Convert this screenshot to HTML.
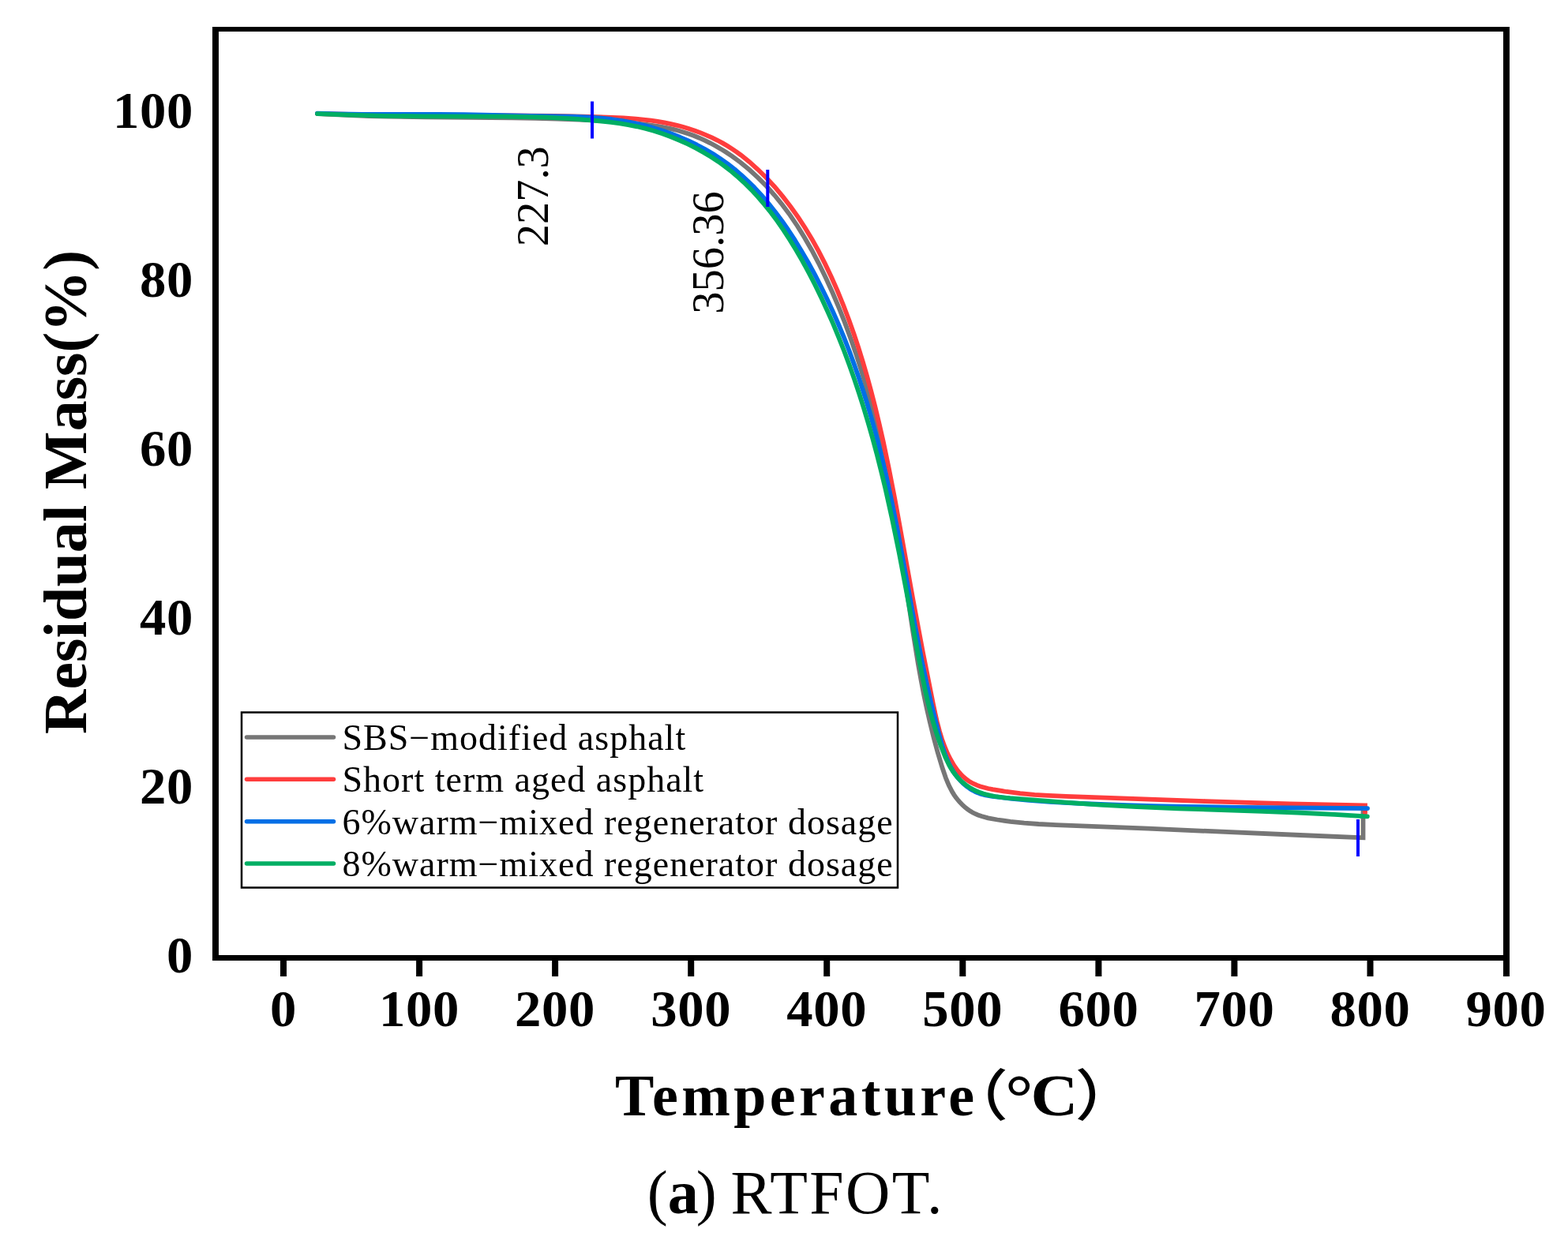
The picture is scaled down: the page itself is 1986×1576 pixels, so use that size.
<!DOCTYPE html>
<html><head><meta charset="utf-8"><style>
html,body{margin:0;padding:0;background:#fff;width:1986px;height:1576px;overflow:hidden}
svg{display:block}
.ser{font-family:"Liberation Serif",serif}
</style></head><body>
<svg width="1986" height="1576" viewBox="0 0 1986 1576">
<rect width="1986" height="1576" fill="#fff"/>
<g fill="#000">
<rect x="269" y="34" width="1643" height="6"/>
<rect x="269" y="1210" width="1643" height="7"/>
<rect x="269" y="34" width="8" height="1183"/>
<rect x="1904" y="34" width="8" height="1203"/>
<rect x="355.0" y="1216" width="8" height="21"/><rect x="527.1" y="1216" width="8" height="21"/><rect x="699.1" y="1216" width="8" height="21"/><rect x="871.2" y="1216" width="8" height="21"/><rect x="1043.2" y="1216" width="8" height="21"/><rect x="1215.3" y="1216" width="8" height="21"/><rect x="1387.4" y="1216" width="8" height="21"/><rect x="1559.4" y="1216" width="8" height="21"/><rect x="1731.5" y="1216" width="8" height="21"/>
</g>
<g class="ser" font-weight="bold" font-size="64.5" letter-spacing="0.6" text-anchor="middle" fill="#000"><text transform="translate(359.0,1300) scale(1.035,1)">0</text><text transform="translate(531.1,1300) scale(1.035,1)">100</text><text transform="translate(703.1,1300) scale(1.035,1)">200</text><text transform="translate(875.2,1300) scale(1.035,1)">300</text><text transform="translate(1047.2,1300) scale(1.035,1)">400</text><text transform="translate(1219.3,1300) scale(1.035,1)">500</text><text transform="translate(1391.4,1300) scale(1.035,1)">600</text><text transform="translate(1563.4,1300) scale(1.035,1)">700</text><text transform="translate(1735.5,1300) scale(1.035,1)">800</text><text transform="translate(1907.5,1300) scale(1.035,1)">900</text></g>
<g class="ser" font-weight="bold" font-size="64.5" letter-spacing="0.6" text-anchor="end" fill="#000"><text transform="translate(245,1231.7) scale(1.035,1)">0</text><text transform="translate(245,1017.8) scale(1.035,1)">20</text><text transform="translate(245,803.9) scale(1.035,1)">40</text><text transform="translate(245,590.0) scale(1.035,1)">60</text><text transform="translate(245,376.1) scale(1.035,1)">80</text><text transform="translate(245,162.2) scale(1.035,1)">100</text></g>
<text class="ser" font-weight="bold" font-size="78" text-anchor="middle" transform="translate(109,623.3) rotate(-90)">Residual Mass(%)</text>
<text class="ser" font-weight="bold" font-size="74" letter-spacing="4.4" x="779" y="1413">Temperature</text>
<text font-family="'Liberation Sans','Noto Sans CJK SC',sans-serif" font-weight="500" font-size="70" transform="translate(1196.4,1413.4) scale(1.15,1)">（</text>
<text class="ser" font-weight="bold" font-size="80" transform="translate(1273.3,1417) scale(1.1,1)">°</text>
<text class="ser" font-weight="bold" font-size="74" transform="translate(1305.5,1413) scale(1.12,1)">C</text>
<text font-family="'Liberation Sans','Noto Sans CJK SC',sans-serif" font-weight="500" font-size="70" transform="translate(1361.6,1413.4) scale(1.15,1)">）</text>
<g class="ser" font-size="78" fill="#000">
<text x="819.7" y="1536.8">(</text><text x="845.7" y="1536.8" font-weight="bold">a</text><text x="881.7" y="1536.8">)</text><text x="925.5" y="1536.8" letter-spacing="2.4">RTFOT.</text>
</g>
<g fill="none" stroke-width="5.8" stroke-linecap="round" stroke-linejoin="round">
<path d="M402.0 143.9 L423.3 145.2 L444.5 146.2 L467.7 147.1 L492.9 147.7 L539.3 148.4 L649.5 149.3 L678.5 149.8 L705.6 150.5 L733.6 151.5 L759.7 152.9 L785.8 154.7 L808.0 156.6 L817.6 157.7 L827.2 159.0 L835.8 160.4 L843.4 161.8 L850.9 163.4 L858.3 165.3 L865.7 167.4 L872.1 169.5 L878.5 171.8 L885.6 174.7 L892.7 177.9 L899.7 181.3 L906.5 185.0 L913.3 188.9 L919.9 193.0 L927.2 197.9 L938.2 206.0 L949.4 215.3 L960.1 225.1 L971.0 236.0 L981.2 247.5 L990.9 259.5 L1000.7 272.6 L1009.9 286.2 L1019.0 301.0 L1028.2 317.0 L1036.8 333.3 L1045.7 351.6 L1054.6 371.0 L1062.9 390.6 L1070.7 410.4 L1078.3 431.2 L1084.6 449.5 L1090.5 467.9 L1096.3 487.3 L1101.8 506.9 L1107.2 527.4 L1112.2 548.1 L1117.2 569.8 L1122.0 592.5 L1126.0 612.5 L1129.8 632.5 L1133.5 653.5 L1137.4 676.4 L1143.7 716.5 L1156.5 801.5 L1162.8 840.5 L1166.4 860.4 L1170.0 879.4 L1173.8 897.3 L1177.7 914.3 L1182.5 934.1 L1187.6 952.9 L1193.5 972.5 L1197.9 985.5 L1200.1 990.9 L1202.0 995.3 L1206.0 1003.0 L1208.5 1007.1 L1210.7 1010.2 L1213.7 1014.0 L1216.2 1016.9 L1219.5 1020.2 L1222.4 1022.8 L1225.4 1025.1 L1228.5 1027.3 L1231.7 1029.2 L1235.1 1031.0 L1238.6 1032.5 L1243.1 1034.1 L1251.5 1036.4 L1263.2 1038.5 L1279.7 1040.8 L1297.2 1042.6 L1315.5 1044.0 L1337.6 1045.1 L1454.2 1049.7 L1646.7 1058.0 L1722.0 1061.2 L1726.5 1061.3 L1726.5 1025.0" stroke="#767676" stroke-linejoin="miter"/>
<path d="M402.0 144.0 L442.2 144.9 L487.1 145.6 L531.1 145.9 L642.1 146.3 L703.3 146.9 L737.7 147.6 L769.3 148.6 L789.4 149.5 L805.6 150.7 L815.1 151.6 L824.6 152.7 L833.1 153.9 L841.6 155.4 L850.0 157.1 L857.5 158.8 L864.9 160.8 L872.3 163.0 L880.5 165.7 L887.7 168.4 L894.8 171.3 L901.8 174.4 L908.7 177.8 L915.4 181.4 L921.2 184.8 L927.6 188.9 L933.1 192.6 L938.6 196.6 L949.0 204.9 L959.7 214.5 L970.6 225.2 L981.0 236.5 L991.4 248.9 L1001.3 261.7 L1010.7 274.9 L1019.6 288.5 L1028.5 303.2 L1036.8 318.2 L1045.1 334.4 L1052.9 350.8 L1060.7 368.4 L1068.3 387.0 L1075.4 405.8 L1081.5 423.0 L1087.2 440.2 L1092.9 458.5 L1098.2 476.8 L1103.5 496.2 L1108.5 515.7 L1113.4 536.1 L1118.5 558.5 L1125.6 592.3 L1133.1 630.8 L1139.3 664.7 L1156.7 761.3 L1168.8 825.9 L1181.5 889.9 L1184.7 905.0 L1187.3 916.3 L1190.0 926.6 L1193.1 936.7 L1196.4 945.7 L1200.1 954.5 L1204.0 962.2 L1208.3 969.7 L1212.7 975.9 L1215.1 978.8 L1217.6 981.6 L1221.0 984.8 L1223.8 987.2 L1226.8 989.4 L1230.0 991.3 L1233.3 993.0 L1237.7 994.9 L1241.3 996.2 L1245.9 997.5 L1251.6 999.0 L1257.4 1000.2 L1274.8 1003.0 L1292.1 1005.2 L1310.3 1006.8 L1328.3 1007.9 L1350.1 1008.9 L1526.6 1015.1 L1633.9 1018.4 L1728.4 1020.5 L1729.0 1020.5 L1729.0 1030.0" stroke="#FF3D3D" stroke-linejoin="miter"/>
<path d="M402.0 143.6 L428.7 144.3 L459.2 144.8 L555.4 145.0 L587.8 145.2 L672.7 146.9 L725.0 147.6 L743.1 148.3 L759.2 149.4 L774.5 151.0 L788.7 153.2 L801.9 155.7 L814.0 158.4 L826.1 161.6 L838.0 165.2 L849.7 169.3 L861.3 173.8 L872.6 178.7 L882.9 183.7 L892.9 189.0 L902.7 194.7 L912.1 200.9 L921.3 207.4 L930.2 214.3 L938.8 221.6 L947.1 229.3 L955.8 237.9 L964.8 247.7 L973.4 257.8 L981.7 268.2 L990.3 279.7 L998.5 291.5 L1006.9 304.4 L1015.4 318.4 L1023.6 332.5 L1031.9 347.7 L1039.8 363.0 L1047.4 378.5 L1055.0 394.9 L1061.9 410.6 L1068.9 427.4 L1075.5 444.2 L1082.0 462.1 L1087.7 478.3 L1093.0 494.5 L1098.2 510.9 L1103.3 528.2 L1108.1 545.6 L1113.0 564.0 L1117.6 582.5 L1122.0 601.0 L1129.1 633.5 L1136.2 668.8 L1142.6 703.3 L1158.8 792.1 L1163.7 817.4 L1168.3 840.8 L1173.7 866.0 L1179.0 889.4 L1184.5 911.8 L1190.1 933.2 L1193.8 946.2 L1197.5 957.0 L1201.2 965.7 L1203.2 970.0 L1205.5 974.1 L1207.9 978.0 L1210.5 981.9 L1213.4 985.5 L1215.9 988.4 L1219.2 991.8 L1222.0 994.3 L1225.0 996.7 L1228.2 999.0 L1231.4 1001.0 L1234.8 1002.8 L1238.3 1004.4 L1241.0 1005.4 L1244.7 1006.5 L1248.4 1007.4 L1256.9 1008.8 L1279.7 1011.6 L1303.5 1013.8 L1330.1 1015.8 L1362.3 1017.6 L1393.7 1019.0 L1427.0 1020.2 L1461.3 1021.1 L1498.5 1021.9 L1567.1 1022.8 L1732.0 1024.1" stroke="#006FE6"/>
<path d="M402.0 144.1 L442.8 145.7 L487.4 146.8 L534.9 147.3 L638.5 147.7 L666.1 148.1 L689.8 148.7 L720.2 150.2 L734.4 151.1 L748.5 152.3 L761.8 153.5 L774.0 154.9 L785.3 156.4 L795.6 158.1 L806.8 160.3 L817.9 162.9 L828.0 165.7 L838.9 169.2 L849.7 173.2 L861.2 178.0 L871.6 182.7 L881.9 187.9 L891.8 193.4 L900.7 198.8 L910.2 205.0 L918.6 211.1 L926.8 217.5 L935.3 224.8 L943.6 232.4 L951.6 240.4 L959.9 249.4 L968.5 259.4 L976.8 269.7 L984.7 280.4 L992.8 292.2 L1000.6 304.2 L1008.6 317.3 L1016.3 330.6 L1024.5 345.7 L1032.4 361.0 L1040.3 377.3 L1047.9 393.7 L1055.2 410.2 L1062.1 426.9 L1069.1 444.5 L1075.7 462.2 L1082.0 480.1 L1088.0 498.0 L1094.0 516.9 L1099.7 536.0 L1105.2 555.1 L1110.6 575.2 L1115.9 596.4 L1121.1 617.6 L1130.0 657.5 L1138.8 700.4 L1147.0 743.4 L1164.0 835.0 L1169.3 862.0 L1172.2 875.9 L1175.1 888.8 L1178.1 900.7 L1181.3 912.6 L1186.2 929.0 L1191.8 945.3 L1197.1 958.7 L1199.5 963.9 L1202.0 969.1 L1204.4 973.2 L1206.9 977.2 L1209.7 981.0 L1212.7 984.7 L1216.0 988.1 L1219.4 991.3 L1223.1 994.3 L1226.1 996.4 L1230.1 998.9 L1233.4 1000.7 L1236.8 1002.3 L1241.1 1004.1 L1245.5 1005.6 L1250.1 1006.8 L1254.7 1007.9 L1260.4 1009.0 L1269.0 1010.2 L1278.7 1011.2 L1346.4 1016.4 L1393.1 1019.7 L1440.2 1022.2 L1492.4 1024.3 L1598.4 1027.8 L1643.2 1029.5 L1690.5 1031.8 L1731.8 1034.4" stroke="#00AE64"/>
</g>
<g fill="#0000FF">
<rect x="748" y="128.5" width="4" height="47"/>
<rect x="970.3" y="215" width="4" height="47"/>
<rect x="1718" y="1038" width="4" height="47"/>
</g>
<g class="ser" font-size="56.5" text-anchor="middle" fill="#000">
<text transform="translate(693.5,248.8) rotate(-90)">227.3</text>
<text transform="translate(915.5,320) rotate(-90)">356.36</text>
</g>
<rect x="306" y="902.5" width="831" height="222" fill="none" stroke="#000" stroke-width="2.5"/>
<g stroke-width="5.5" stroke-linecap="round">
<line x1="312.5" y1="933.9" x2="422.5" y2="933.9" stroke="#767676"/>
<line x1="312.5" y1="987.3" x2="422.5" y2="987.3" stroke="#FF3D3D"/>
<line x1="312.5" y1="1040.7" x2="422.5" y2="1040.7" stroke="#006FE6"/>
<line x1="312.5" y1="1094.1" x2="422.5" y2="1094.1" stroke="#00AE64"/>
</g>
<g class="ser" font-size="46" letter-spacing="1" fill="#000">
<text x="433.5" y="950">SBS−modified asphalt</text>
<text x="433.5" y="1003.4">Short term aged asphalt</text>
<text x="433.5" y="1056.8">6%warm−mixed regenerator dosage</text>
<text x="433.5" y="1110.2">8%warm−mixed regenerator dosage</text>
</g>
</svg>
</body></html>
